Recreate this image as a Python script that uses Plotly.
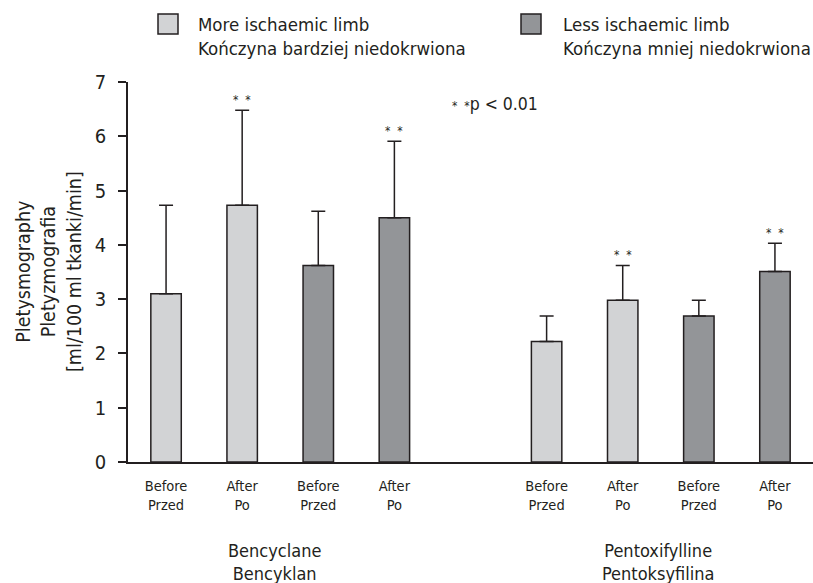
import plotly.graph_objects as go

# ---- data ----
positions = [0, 1, 2, 3, 5, 6, 7, 8]
tick_labels = ["Before<br>Przed", "After<br>Po", "Before<br>Przed", "After<br>Po",
               "Before<br>Przed", "After<br>Po", "Before<br>Przed", "After<br>Po"]
means = [3.10, 4.73, 3.62, 4.50, 2.22, 2.98, 2.69, 3.51]
sd = [1.63, 1.75, 1.00, 1.41, 0.47, 0.64, 0.29, 0.52]
limb = ["more", "more", "less", "less", "more", "more", "less", "less"]
significant = [False, True, False, True, False, True, False, True]
groups = ["Bencyclane<br>Bencyklan", "Pentoxifylline<br>Pentoksyfilina"]
group_centers = [1.42, 6.47]
legend_labels = {"more": "More ischaemic limb<br>Kończyna bardziej niedokrwiona",
                 "less": "Less ischaemic limb<br>Kończyna mniej niedokrwiona"}

LIGHT = "#d2d3d5"
DARK = "#939598"
INK = "#231f20"
FONT = "DejaVu Sans Condensed, Liberation Sans Narrow, Liberation Sans, sans-serif"

L, T, W, H = 128, 82, 685, 380  # plot area in px


def px_x(px):
    return (px - L) / W


def px_y(py):
    return 1 + (T - py) / H


fig = go.Figure()
for key, col in [("more", LIGHT), ("less", DARK)]:
    xs = [p for p, l in zip(positions, limb) if l == key]
    ys = [m for m, l in zip(means, limb) if l == key]
    es = [s for s, l in zip(sd, limb) if l == key]
    fig.add_trace(go.Bar(
        x=xs, y=ys, width=0.4, marker=dict(color=col, line=dict(color=INK, width=1.5)),
        error_y=dict(type="data", array=es, arrayminus=[0] * len(es), symmetric=False,
                     color=INK, thickness=1.5, width=7),
        showlegend=False,
    ))

for p, m, s, sig in zip(positions, means, sd, significant):
    if sig:
        fig.add_annotation(x=p, y=m + s, text="*  *", showarrow=False, yanchor="bottom",
                           yshift=1, font=dict(size=12, color=INK, family=FONT))

for g, c in zip(groups, group_centers):
    fig.add_annotation(x=c, xref="x", y=px_y(562), yref="paper", text=g, showarrow=False,
                       yanchor="middle", font=dict(size=18, color=INK, family=FONT))

fig.add_annotation(x=3.73, y=6.6, xanchor="left", yanchor="middle", showarrow=False,
                   text="<span style='font-size:12px'>*  *</span>p < 0.01",
                   font=dict(size=17.5, color=INK, family=FONT))

fig.add_annotation(x=px_x(49), xref="paper", y=px_y(272), yref="paper", textangle=-90,
                   xanchor="center", yanchor="middle", showarrow=False,
                   text="Pletysmography<br>Pletyzmografia<br>[ml/100 ml tkanki/min]",
                   font=dict(size=19.5, color=INK, family=FONT))

# manual legend
leg = [("more", LIGHT, 158, 197), ("less", DARK, 521, 562)]
for key, col, sx, tx in leg:
    fig.add_shape(type="rect", xref="paper", yref="paper", x0=px_x(sx), x1=px_x(sx + 20),
                  y0=px_y(34), y1=px_y(14),
                  fillcolor=col, line=dict(color=INK, width=1.5))
    fig.add_annotation(xref="paper", yref="paper", x=px_x(tx - 1),
                       y=px_y(37), xanchor="left", yanchor="middle",
                       align="left", showarrow=False, text=legend_labels[key],
                       font=dict(size=18.5, color=INK, family=FONT))

fig.update_layout(
    width=813, height=583, margin=dict(l=L, r=0, t=T, b=583 - T - H),
    paper_bgcolor="white", plot_bgcolor="white", barmode="overlay",
    font=dict(family=FONT, color=INK),
)
fig.update_xaxes(range=[-0.5, 8.5], tickvals=positions, ticktext=tick_labels,
                 showline=True, linecolor=INK, linewidth=1.5, ticks="",
                 tickfont=dict(size=14.5, family=FONT, color=INK), showgrid=False,
                 zeroline=False, ticklabelstandoff=10)
fig.update_yaxes(range=[0, 7], dtick=1, showline=True, linecolor=INK, linewidth=1.5,
                 ticks="outside", ticklen=8, tickwidth=1.5, tickcolor=INK,
                 tickfont=dict(size=20, family=FONT, color=INK), showgrid=False,
                 zeroline=False, ticklabelstandoff=8)

fig.write_html("out.html")
